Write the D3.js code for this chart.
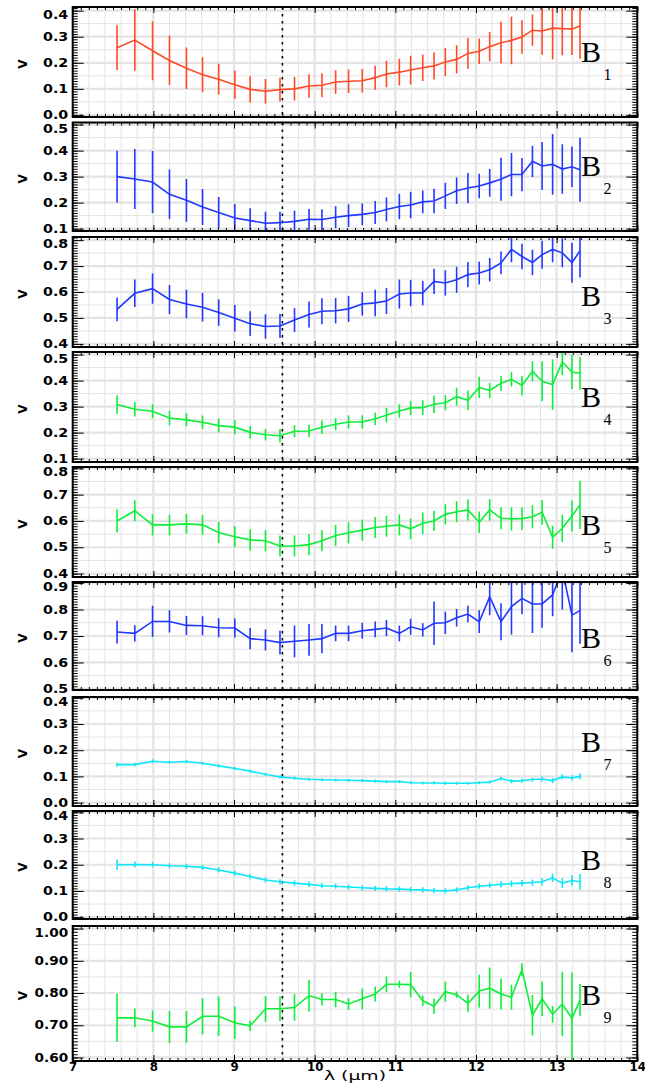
<!DOCTYPE html>
<html>
<head>
<meta charset="utf-8">
<script src="https://cdn.jsdelivr.net/npm/d3@7"></script>
<style>
  body { margin: 0; background: #fff; }
</style>
</head>
<body>
<svg id="chart" width="645" height="1084"></svg>
<script>
// wavelengths (micron), shared by all baselines
const lambda = [7.55, 7.77, 7.99, 8.20, 8.41, 8.61, 8.81, 9.01, 9.20, 9.39, 9.57, 9.75, 9.93,
  10.09, 10.26, 10.42, 10.59, 10.75, 10.89, 11.05, 11.19, 11.34, 11.48, 11.62, 11.76, 11.90,
  12.04, 12.17, 12.31, 12.44, 12.57, 12.70, 12.82, 12.95, 13.07, 13.19, 13.29];

// visibilities and errors per baseline
const b1 = [0.258, 0.287, 0.246, 0.209, 0.179, 0.154, 0.137, 0.116, 0.098, 0.091, 0.097, 0.100, 0.111,
  0.114, 0.126, 0.129, 0.131, 0.143, 0.157, 0.164, 0.172, 0.181, 0.188, 0.203, 0.213, 0.236,
  0.244, 0.262, 0.277, 0.286, 0.299, 0.325, 0.322, 0.333, 0.331, 0.330, 0.341];
const e1 = [0.086, 0.118, 0.113, 0.095, 0.080, 0.067, 0.059, 0.054, 0.050, 0.047, 0.046, 0.045, 0.045,
  0.046, 0.045, 0.045, 0.045, 0.046, 0.051, 0.051, 0.055, 0.051, 0.052, 0.054, 0.054, 0.059,
  0.049, 0.056, 0.080, 0.092, 0.064, 0.060, 0.091, 0.120, 0.102, 0.100, 0.126];

const b2 = [0.300, 0.291, 0.279, 0.232, 0.209, 0.183, 0.162, 0.141, 0.131, 0.121, 0.123, 0.128, 0.136,
  0.135, 0.144, 0.150, 0.155, 0.162, 0.174, 0.185, 0.191, 0.203, 0.206, 0.226, 0.246, 0.256,
  0.264, 0.276, 0.290, 0.308, 0.308, 0.359, 0.341, 0.347, 0.329, 0.338, 0.326];
const e2 = [0.099, 0.115, 0.119, 0.095, 0.082, 0.069, 0.060, 0.054, 0.047, 0.044, 0.042, 0.041, 0.040,
  0.040, 0.042, 0.044, 0.042, 0.044, 0.046, 0.049, 0.051, 0.044, 0.047, 0.050, 0.051, 0.058,
  0.047, 0.053, 0.083, 0.083, 0.064, 0.060, 0.092, 0.117, 0.095, 0.078, 0.123];

const b3 = [0.533, 0.595, 0.613, 0.571, 0.554, 0.541, 0.521, 0.499, 0.478, 0.467, 0.469, 0.492, 0.513,
  0.526, 0.528, 0.535, 0.554, 0.558, 0.565, 0.592, 0.596, 0.596, 0.641, 0.635, 0.647, 0.667,
  0.673, 0.686, 0.712, 0.764, 0.737, 0.714, 0.744, 0.764, 0.751, 0.713, 0.759];
const e3 = [0.046, 0.053, 0.058, 0.056, 0.055, 0.055, 0.051, 0.051, 0.048, 0.047, 0.046, 0.046, 0.050,
  0.050, 0.049, 0.050, 0.045, 0.051, 0.050, 0.056, 0.051, 0.047, 0.049, 0.049, 0.050, 0.049,
  0.044, 0.045, 0.044, 0.049, 0.049, 0.049, 0.054, 0.049, 0.056, 0.077, 0.103];

const b4 = [0.308, 0.290, 0.282, 0.256, 0.249, 0.240, 0.227, 0.221, 0.201, 0.192, 0.188, 0.205, 0.206,
  0.221, 0.232, 0.241, 0.241, 0.253, 0.267, 0.283, 0.295, 0.296, 0.309, 0.315, 0.338, 0.324,
  0.374, 0.362, 0.390, 0.405, 0.381, 0.436, 0.397, 0.385, 0.472, 0.433, 0.428];
const e4 = [0.036, 0.028, 0.027, 0.028, 0.025, 0.026, 0.027, 0.027, 0.024, 0.022, 0.026, 0.023, 0.024,
  0.026, 0.023, 0.026, 0.026, 0.024, 0.028, 0.026, 0.027, 0.028, 0.034, 0.029, 0.035, 0.038,
  0.041, 0.029, 0.029, 0.028, 0.038, 0.038, 0.076, 0.097, 0.051, 0.065, 0.063];

const b5 = [0.600, 0.639, 0.585, 0.585, 0.589, 0.585, 0.556, 0.540, 0.528, 0.525, 0.505, 0.505, 0.510,
  0.525, 0.545, 0.555, 0.565, 0.575, 0.580, 0.585, 0.570, 0.591, 0.600, 0.625, 0.635, 0.642,
  0.595, 0.642, 0.610, 0.608, 0.609, 0.616, 0.633, 0.538, 0.572, 0.619, 0.661];
const e5 = [0.044, 0.040, 0.040, 0.039, 0.037, 0.038, 0.040, 0.040, 0.040, 0.040, 0.040, 0.040, 0.040,
  0.040, 0.040, 0.040, 0.040, 0.040, 0.040, 0.040, 0.040, 0.041, 0.038, 0.038, 0.040, 0.040,
  0.041, 0.041, 0.042, 0.044, 0.043, 0.044, 0.047, 0.044, 0.052, 0.059, 0.092];

const b6 = [0.715, 0.710, 0.755, 0.755, 0.740, 0.739, 0.731, 0.730, 0.690, 0.685, 0.675, 0.680, 0.685,
  0.690, 0.710, 0.710, 0.720, 0.725, 0.730, 0.710, 0.735, 0.723, 0.748, 0.750, 0.769, 0.783,
  0.754, 0.848, 0.754, 0.811, 0.842, 0.821, 0.821, 0.855, 0.950, 0.779, 0.796];
const e6 = [0.043, 0.031, 0.059, 0.042, 0.036, 0.036, 0.036, 0.036, 0.040, 0.040, 0.045, 0.060, 0.060,
  0.055, 0.030, 0.030, 0.030, 0.030, 0.030, 0.030, 0.030, 0.025, 0.082, 0.042, 0.033, 0.031,
  0.043, 0.070, 0.070, 0.105, 0.060, 0.110, 0.090, 0.080, 0.150, 0.140, 0.125];

const b7 = [0.145, 0.145, 0.158, 0.154, 0.157, 0.150, 0.140, 0.130, 0.120, 0.108, 0.098, 0.093, 0.089,
  0.087, 0.086, 0.085, 0.084, 0.082, 0.080, 0.080, 0.076, 0.075, 0.075, 0.074, 0.074, 0.074,
  0.076, 0.078, 0.092, 0.082, 0.084, 0.088, 0.090, 0.084, 0.098, 0.094, 0.100];
const e7 = [0.008, 0.007, 0.007, 0.006, 0.006, 0.006, 0.006, 0.006, 0.006, 0.006, 0.006, 0.006, 0.006,
  0.006, 0.006, 0.006, 0.006, 0.006, 0.006, 0.006, 0.006, 0.006, 0.006, 0.006, 0.006, 0.006,
  0.006, 0.006, 0.008, 0.008, 0.008, 0.008, 0.010, 0.010, 0.010, 0.010, 0.012];

const b8 = [0.200, 0.201, 0.200, 0.196, 0.194, 0.190, 0.180, 0.168, 0.155, 0.142, 0.135, 0.130, 0.125,
  0.120, 0.118, 0.115, 0.112, 0.110, 0.108, 0.107, 0.105, 0.104, 0.102, 0.100, 0.104, 0.112,
  0.118, 0.122, 0.125, 0.128, 0.130, 0.132, 0.135, 0.150, 0.130, 0.140, 0.135];
const e8 = [0.020, 0.012, 0.010, 0.010, 0.010, 0.010, 0.010, 0.010, 0.010, 0.010, 0.010, 0.010, 0.010,
  0.010, 0.010, 0.010, 0.010, 0.010, 0.010, 0.010, 0.010, 0.010, 0.010, 0.010, 0.010, 0.010,
  0.010, 0.010, 0.012, 0.012, 0.012, 0.012, 0.014, 0.016, 0.018, 0.020, 0.030];

const b9 = [0.723, 0.723, 0.713, 0.695, 0.695, 0.728, 0.728, 0.708, 0.698, 0.751, 0.751, 0.755, 0.792,
  0.780, 0.780, 0.766, 0.782, 0.797, 0.827, 0.827, 0.826, 0.776, 0.759, 0.804, 0.795, 0.768,
  0.806, 0.815, 0.797, 0.787, 0.872, 0.731, 0.782, 0.734, 0.766, 0.721, 0.778];
const e9 = [0.075, 0.029, 0.033, 0.050, 0.049, 0.056, 0.061, 0.050, 0.016, 0.040, 0.038, 0.041, 0.049,
  0.019, 0.024, 0.018, 0.032, 0.023, 0.024, 0.011, 0.039, 0.016, 0.024, 0.031, 0.010, 0.027,
  0.051, 0.064, 0.048, 0.039, 0.020, 0.063, 0.054, 0.026, 0.100, 0.143, 0.050];

const xTicks = [7, 8, 9, 10, 11, 12, 13, 14];
const markLambda = 9.6;

const RED = "#ff4a26", BLUE = "#2238ff", GREEN = "#10ee3c", CYAN = "#10e6f8";

// layout of the nine stacked panels
const panels = [
  { id: "1", v: b1, e: e1, color: RED,   top: 7,   bottom: 117, ymin: -0.008, ymax: 0.414, fmt: ".1f", lab: 55 },
  { id: "2", v: b2, e: e2, color: BLUE,  top: 122.5, bottom: 231, ymin: 0.091, ymax: 0.508, fmt: ".1f", lab: 53 },
  { id: "3", v: b3, e: e3, color: BLUE,  top: 237, bottom: 347, ymin: 0.388, ymax: 0.812, fmt: ".1f", lab: 69 },
  { id: "4", v: b4, e: e4, color: GREEN, top: 352, bottom: 462, ymin: 0.087, ymax: 0.510, fmt: ".1f", lab: 55 },
  { id: "5", v: b5, e: e5, color: GREEN, top: 467, bottom: 577, ymin: 0.387, ymax: 0.805, fmt: ".1f", lab: 68 },
  { id: "6", v: b6, e: e6, color: BLUE,  top: 582, bottom: 690, ymin: 0.496, ymax: 0.904, fmt: ".1f", lab: 66 },
  { id: "7", v: b7, e: e7, color: CYAN,  top: 697, bottom: 806, ymin: -0.013, ymax: 0.403, fmt: ".1f", lab: 55 },
  { id: "8", v: b8, e: e8, color: CYAN,  top: 811, bottom: 919, ymin: -0.007, ymax: 0.405, fmt: ".1f", lab: 59 },
  { id: "9", v: b9, e: e9, color: GREEN, top: 926, bottom: 1061, ymin: 0.589, ymax: 1.008, fmt: ".2f", lab: 79 }
];

const svg = d3.select("#chart");
const x = d3.scaleLinear().domain([7, 14]).range([72.7, 637.3]);
const left = x.range()[0], right = x.range()[1];

function steps(lo, hi, step) {
  let a = Math.ceil(lo / step - 1e-6), b = Math.floor(hi / step + 1e-6);
  return d3.range(a, b + 1).map(k => +(k * step).toFixed(4));
}

panels.forEach((p, pi) => {
  const y = d3.scaleLinear().domain([p.ymin, p.ymax]).range([p.bottom, p.top]);
  const g = svg.append("g");
  const clipId = "clip" + pi;

  svg.append("clipPath").attr("id", clipId)
    .append("rect")
    .attr("x", left).attr("y", p.top)
    .attr("width", right - left).attr("height", p.bottom - p.top);

  // grid
  const grid = g.append("g").attr("clip-path", "url(#" + clipId + ")");
  const xMinor = steps(7, 14, 0.2);
  grid.selectAll(null).data(xMinor).enter().append("line")
    .attr("x1", d => x(d)).attr("x2", d => x(d))
    .attr("y1", p.top).attr("y2", p.bottom)
    .attr("stroke", "#e4e4e4")
    .attr("stroke-width", d => Math.abs(d - Math.round(d)) < 1e-6 ? 2.2 : 1);
  const yMinor = steps(p.ymin, p.ymax, 0.05);
  grid.selectAll(null).data(yMinor).enter().append("line")
    .attr("x1", left).attr("x2", right)
    .attr("y1", d => y(d)).attr("y2", d => y(d))
    .attr("stroke", "#e4e4e4")
    .attr("stroke-width", d => Math.abs(d * 10 - Math.round(d * 10)) < 1e-6 ? 2.2 : 1);

  // dotted marker line
  g.append("line")
    .attr("x1", x(markLambda)).attr("x2", x(markLambda))
    .attr("y1", p.top).attr("y2", p.bottom)
    .attr("stroke", "#000").attr("stroke-width", 1.6)
    .attr("stroke-dasharray", "2.5,4.5");

  // data
  const data = lambda.map((l, i) => ({ l: l, v: p.v[i], e: p.e[i] }));
  const plot = g.append("g").attr("clip-path", "url(#" + clipId + ")");
  plot.selectAll(null).data(data).enter().append("line")
    .attr("x1", d => x(d.l)).attr("x2", d => x(d.l))
    .attr("y1", d => y(d.v - d.e)).attr("y2", d => y(d.v + d.e))
    .attr("stroke", p.color).attr("stroke-width", 1.6);
  plot.append("path")
    .attr("d", d3.line().x(d => x(d.l)).y(d => y(d.v))(data))
    .attr("fill", "none").attr("stroke", p.color).attr("stroke-width", 1.6);

  // axes (ticks inward)
  const yMajor = steps(p.ymin, p.ymax, 0.1);
  const yMin = steps(p.ymin, p.ymax, 0.01);
  const ax = g.append("g").attr("class", "axes");
  ax.append("g").attr("transform", `translate(${left},0)`)
    .call(d3.axisLeft(y).tickValues(yMin).tickSize(-5).tickFormat(""));
  ax.append("g").attr("transform", `translate(${right},0)`)
    .call(d3.axisRight(y).tickValues(yMin).tickSize(-5).tickFormat(""));
  ax.append("g").attr("transform", `translate(${right},0)`)
    .call(d3.axisRight(y).tickValues(yMajor).tickSize(-11).tickFormat(""));
  const yl = ax.append("g").attr("transform", `translate(${left},0)`)
    .call(d3.axisLeft(y).tickValues(yMajor).tickSizeInner(-11).tickSizeOuter(0)
      .tickPadding(4.5).tickFormat(d3.format(p.fmt)));
  yl.selectAll("text")
    .attr("font-family", "'DejaVu Sans', sans-serif")
    .attr("font-weight", "bold").attr("font-size", 11.5)
    .attr("fill", "#000")
    // top label sits a little lower, as in the original plot
    .attr("dy", d => (y(d) - p.top < 6 ? "0.65em" : "0.32em"))
    .attr("textLength", d => d3.format(p.fmt)(d).length * 8.4)
    .attr("lengthAdjust", "spacingAndGlyphs");

  const xMin = steps(7, 14, 0.1);
  ax.append("g").attr("transform", `translate(0,${p.bottom})`)
    .call(d3.axisBottom(x).tickValues(xMin).tickSize(-3).tickFormat(""));
  ax.append("g").attr("transform", `translate(0,${p.bottom})`)
    .call(d3.axisBottom(x).tickValues(xTicks).tickSize(-6).tickFormat(""));
  ax.append("g").attr("transform", `translate(0,${p.top})`)
    .call(d3.axisTop(x).tickValues(xMin).tickSize(-3).tickFormat(""));
  ax.append("g").attr("transform", `translate(0,${p.top})`)
    .call(d3.axisTop(x).tickValues(xTicks).tickSize(-6).tickFormat(""));
  ax.selectAll(".domain").remove();
  ax.selectAll(".tick line").attr("stroke", "#000").attr("stroke-width", 1);

  // frame
  g.append("rect")
    .attr("x", left).attr("y", p.top)
    .attr("width", right - left).attr("height", p.bottom - p.top)
    .attr("fill", "none").attr("stroke", "#000").attr("stroke-width", 2);

  // y title
  g.append("text")
    .attr("transform", `translate(27,${(p.top + p.bottom) / 2 + 2}) rotate(-90)`)
    .attr("text-anchor", "middle")
    .attr("font-family", "'DejaVu Sans', sans-serif")
    .attr("font-weight", "bold").attr("font-size", 12)
    .text("V");

  // baseline label B with subscript
  g.append("text")
    .attr("x", 581).attr("y", p.top + p.lab)
    .attr("font-family", "'Liberation Serif', 'Times New Roman', serif")
    .attr("font-size", 30).attr("fill", "#000")
    .text("B");
  g.append("text")
    .attr("x", 603.5).attr("y", p.top + p.lab + 18)
    .attr("font-family", "'Liberation Serif', 'Times New Roman', serif")
    .attr("font-size", 16).attr("fill", "#000")
    .text(p.id);

  // bottom x labels only under last panel
  if (pi === panels.length - 1) {
    const xl = g.append("g").attr("transform", `translate(0,${p.bottom})`)
      .call(d3.axisBottom(x).tickValues(xTicks).tickSize(0).tickPadding(2).tickFormat(d3.format("d")));
    xl.select(".domain").remove();
    xl.selectAll("text")
      .attr("font-family", "'DejaVu Sans', sans-serif")
      .attr("font-weight", "bold").attr("font-size", 11.5).attr("fill", "#000")
      .attr("textLength", d => String(d).length * 8.2)
      .attr("lengthAdjust", "spacingAndGlyphs");
  }
});

svg.append("text")
  .attr("x", x(10.5)).attr("y", 1080)
  .attr("text-anchor", "middle")
  .attr("font-family", "'DejaVu Sans', sans-serif")
  .attr("font-size", 12)
  .attr("textLength", 62).attr("lengthAdjust", "spacingAndGlyphs")
  .text("λ (μm)");
</script>
</body>
</html>
